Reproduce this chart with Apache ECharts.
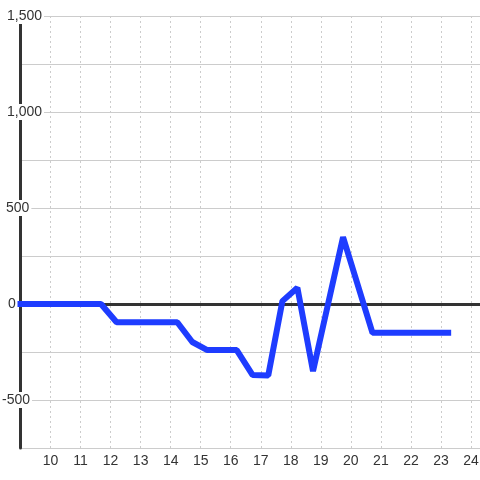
<!DOCTYPE html>
<html>
<head>
<meta charset="utf-8">
<script src="https://cdn.jsdelivr.net/npm/echarts@6/dist/echarts.min.js"></script>
<style>html,body{margin:0;padding:0;background:#fff}#c{width:480px;height:480px}</style>
</head>
<body>
<div id="c"></div>
<script>
var xValues = [9, 11.68, 12.2, 14.22, 14.72, 15.22, 16.2, 16.73, 17.25, 17.72, 18.22, 18.74, 19.74, 20.72, 23.24];
var yValues = [0, 0, -95, -95, -198, -240, -240, -370, -372, 15, 85, -350, 348, -150, -150];
var yTickLabels = {'1500': '1,500', '1000': '1,000', '500': '500', '0': '0', '-500': '-500'};

var FONT = 'Liberation Sans, Arial, sans-serif';
var pts = xValues.map(function (x, i) { return [x, yValues[i]]; });

var chart = echarts.init(document.getElementById('c'), null, {renderer: 'canvas'});
chart.setOption({
  animation: false,
  backgroundColor: '#fff',
  grid: {left: 20.5, right: 0, top: 16, bottom: 32, containLabel: false, outerBoundsMode: 'none'},
  xAxis: {
    type: 'value', min: 9, max: 24.3, interval: 1,
    axisLine: {show: false},
    axisTick: {show: false},
    axisLabel: {
      color: '#333', fontSize: 14, fontFamily: FONT, margin: 6,
      showMinLabel: false, showMaxLabel: false,
      formatter: function (v) { return (Math.abs(v - Math.round(v)) < 1e-6 && v > 9) ? String(Math.round(v)) : ''; }
    },
    splitLine: {show: true, showMinLine: false, showMaxLine: false, lineStyle: {color: '#ccc', type: [2, 3], width: 1}}
  },
  yAxis: [{
    type: 'value', min: -750, max: 1500, interval: 250, z: 0,
    axisLine: {show: false}, axisTick: {show: false}, axisLabel: {show: false},
    splitLine: {show: true, lineStyle: {color: '#ccc', width: 1}}
  }, {
    type: 'value', min: -750, max: 1500, interval: 250, z: 3, position: 'left',
    axisLine: {show: true, lineStyle: {color: '#333', width: 3}},
    axisTick: {show: false},
    splitLine: {show: false},
    axisLabel: {
      align: 'left', margin: 20,
      formatter: function (v) {
        var t = yTickLabels[String(v)];
        if (!t) return '';
        var key = v === 0 ? 'z' : (v < 0 ? 'n' : (v === 500 ? 'm' : 'a'));
        return '{' + key + '|' + t + '}';
      },
      rich: {
        a: {color: '#333', fontSize: 14, fontFamily: FONT, lineHeight: 14, backgroundColor: '#fff', padding: [1, 2, 1, 6.5]},
        m: {color: '#333', fontSize: 14, fontFamily: FONT, lineHeight: 14, backgroundColor: '#fff', padding: [1, 2, 1, 5.5]},
        z: {color: '#333', fontSize: 14, fontFamily: FONT, lineHeight: 14, backgroundColor: '#fff', padding: [1, 1, 1, 7.5]},
        n: {color: '#333', fontSize: 14, fontFamily: FONT, lineHeight: 14, backgroundColor: '#fff', padding: [1, 2, 1, 1.5]}
      }
    }
  }],
  series: [{
    type: 'line', data: [], z: 4, silent: true,
    markLine: {
      silent: true, symbol: 'none', label: {show: false},
      lineStyle: {color: '#333', width: 3, type: 'solid'},
      data: [{yAxis: 0}]
    }
  }, {
    type: 'line', data: pts, z: 5, showSymbol: false, symbol: 'none', clip: false,
    lineStyle: {color: '#1e3cff', width: 6, cap: 'square', join: 'bevel'}
  }]
});
</script>
</body>
</html>
